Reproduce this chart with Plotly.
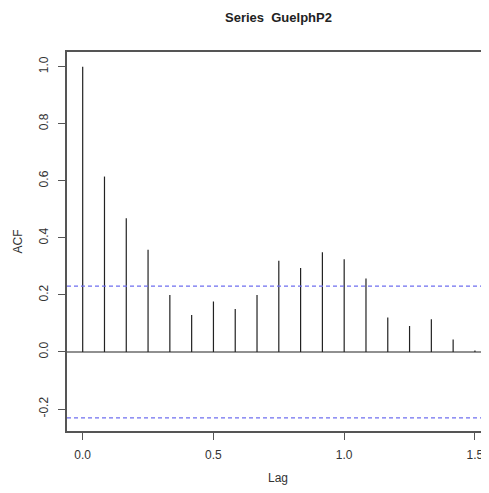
import plotly.graph_objects as go

lag_index = [0, 1, 2, 3, 4, 5, 6, 7, 8, 9, 10, 11, 12, 13, 14, 15, 16, 17, 18]
acf_values = [1.0, 0.615, 0.469, 0.358, 0.200, 0.130, 0.177, 0.151, 0.200,
              0.320, 0.294, 0.350, 0.325, 0.258, 0.121, 0.091, 0.115, 0.044, 0.005]
frequency = 12
conf_limit = 0.231
x_ticks = [0.0, 0.5, 1.0, 1.5]
x_tick_labels = ["0.0", "0.5", "1.0", "1.5"]
y_ticks = [-0.2, 0.0, 0.2, 0.4, 0.6, 0.8, 1.0]
y_tick_labels = ["-0.2", "0.0", "0.2", "0.4", "0.6", "0.8", "1.0"]

lags = [k / frequency for k in lag_index]

xs, ys = [], []
for lg, v in zip(lags, acf_values):
    xs += [lg, lg, None]
    ys += [0, v, None]

x_range = [-0.06, 1.5538]
y_range = [-0.277, 1.0516]

fig = go.Figure()
fig.add_trace(go.Scatter(x=xs, y=ys, mode="lines",
                         line=dict(color="#222222", width=1.2),
                         hoverinfo="skip", showlegend=False))
# zero line
fig.add_trace(go.Scatter(x=[x_range[0], x_range[1]], y=[0, 0], mode="lines",
                         line=dict(color="#222222", width=1.2),
                         hoverinfo="skip", showlegend=False))
# confidence limits
for c in (conf_limit, -conf_limit):
    fig.add_trace(go.Scatter(x=[x_range[0], x_range[1]], y=[c, c], mode="lines",
                             line=dict(color="#6f6ff0", width=1.3, dash="4px,3px"),
                             hoverinfo="skip", showlegend=False))

font_family = "Liberation Sans, Arial, sans-serif"

# page body has an 8px margin, so the figure is sized/positioned to compensate
fig.update_layout(
    width=481, height=485,
    margin=dict(l=59, r=0, t=44, b=62),
    plot_bgcolor="white", paper_bgcolor="white",
    font=dict(family=font_family, size=12, color="#333333"),
    showlegend=False,
    xaxis=dict(range=x_range, tickvals=x_ticks, ticktext=x_tick_labels,
               automargin=False,
               showgrid=False, zeroline=False, showline=True, mirror=True,
               linecolor="#555555", linewidth=1.5,
               ticks="outside", ticklen=7, tickcolor="#555555",
               ticklabelstandoff=5,
               tickfont=dict(size=12, color="#333333"),
               title=dict(text="Lag", font=dict(size=12, color="#333333"), standoff=12)),
    yaxis=dict(range=y_range, tickvals=y_ticks, ticktext=y_tick_labels,
               automargin=False,
               showgrid=False, zeroline=False, showline=True, mirror=False,
               linecolor="#555555", linewidth=1.5,
               ticks="outside", ticklen=7, tickcolor="#555555", tickangle=-90,
               ticklabelstandoff=5,
               tickfont=dict(size=12, color="#333333"),
               title=dict(text="ACF", font=dict(size=12, color="#333333"), standoff=12)),
    annotations=[dict(text="<b>Series  GuelphP2</b>", x=0.75, xref="x",
                      y=1.092, yref="paper", xanchor="center", yanchor="middle",
                      showarrow=False, font=dict(size=13, color="#222222"))],
)

fig.write_html("out.html")
